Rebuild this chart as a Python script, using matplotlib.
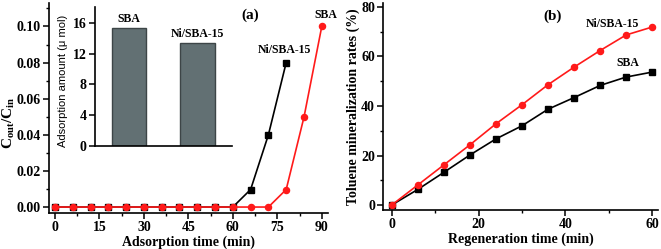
import matplotlib
matplotlib.use("Agg")
import matplotlib.pyplot as plt
from matplotlib.ticker import AutoMinorLocator, MultipleLocator, FormatStrFormatter

plt.rcParams['font.family'] = ['Liberation Serif']
plt.rcParams['font.weight'] = 'bold'
plt.rcParams['mathtext.fontset'] = 'custom'
plt.rcParams['mathtext.rm'] = 'Liberation Serif:bold'
plt.rcParams['mathtext.it'] = 'Liberation Serif:bold'
plt.rcParams['mathtext.bf'] = 'Liberation Serif:bold'

# Panel (a) breakthrough data
t_ads = [0, 6, 12, 18, 24, 30, 36, 42, 48, 54, 60, 66, 72, 78, 84, 90]
ni_ads = [0, 0, 0, 0, 0, 0, 0, 0, 0, 0, 0, 0.0097, 0.0400, 0.0800]
sba_ads = [0, 0, 0, 0, 0, 0, 0, 0, 0, 0, 0, 0, 0, 0.0097, 0.0498, 0.1000]

# Inset bars
bar_labels = ["SBA", "Ni/SBA-15"]
bar_values = [15.3, 13.4]

# Panel (b) mineralization data
t_reg = [0, 6, 12, 18, 24, 30, 36, 42, 48, 54, 60]
ni_min = [0, 8.1, 16.2, 24.3, 32.8, 40.5, 48.6, 55.7, 62.4, 68.7, 71.9]
sba_min = [0, 6.3, 13.2, 20.2, 26.7, 32.0, 38.7, 43.4, 48.3, 51.7, 53.7]

fig = plt.figure(figsize=(6.61, 2.49), dpi=100)
W, H = 661, 249

def ax_px(x0, y0, x1, y1):
    return fig.add_axes([x0 / W, 1 - y1 / H, (x1 - x0) / W, (y1 - y0) / H])

red = '#ff1a1a'
fs_tick = 10
fs_lab = 10

def style(ax):
    for s in ['top', 'right']:
        ax.spines[s].set_visible(False)
    for s in ['left', 'bottom']:
        ax.spines[s].set_linewidth(1.2)
    ax.tick_params(which='major', direction='out', length=4, width=1.1, labelsize=fs_tick, pad=2)
    ax.tick_params(which='minor', direction='out', length=2.5, width=1.0)
    for lab in ax.get_xticklabels() + ax.get_yticklabels():
        lab.set_fontweight('bold')

# Panel (a)
axa = ax_px(49, 3, 328, 213)
axa.plot(t_ads[:len(ni_ads)], ni_ads, color='black', marker='s', ms=3.8, lw=1.2)
axa.plot(t_ads, sba_ads, color=red, marker='o', ms=4.4, lw=1.2)
axa.set_xlim(-2.0, 92.1)
axa.set_ylim(-0.0033, 0.113)
axa.xaxis.set_major_locator(MultipleLocator(15))
axa.xaxis.set_minor_locator(AutoMinorLocator(2))
axa.yaxis.set_major_locator(MultipleLocator(0.02))
axa.yaxis.set_minor_locator(AutoMinorLocator(2))
axa.yaxis.set_major_formatter(FormatStrFormatter('%.2f'))
style(axa)
axa.set_xlabel('Adsorption time (min)', fontsize=fs_lab, fontweight='bold', labelpad=1)
axa.set_ylabel(r'C$_{\mathregular{out}}$/C$_{\mathregular{in}}$', fontsize=fs_lab + 1, fontweight='bold')
axa.yaxis.set_label_coords((17 - 49) / 279, (213 - 123) / 210)
fig.text(250 / W, 1 - 15 / H, '(a)', fontsize=11, fontweight='bold', ha='center', va='center')
fig.text(284 / W, 1 - 50 / H, 'Ni/SBA-15', fontsize=8.5, fontweight='bold', ha='center', va='center')
fig.text(326 / W, 1 - 15 / H, 'SBA', fontsize=8.5, fontweight='bold', ha='center', va='center')

# Inset
axi = ax_px(95, 6.7, 231.7, 145.7)
axi.patch.set_alpha(0)
axi.bar([0, 1], bar_values, width=0.5, color='#627073', edgecolor='#3d4547', linewidth=1.0)
axi.set_xlim(-0.5, 1.5)
axi.set_ylim(0, 18.1)
axi.set_xticks([])
axi.yaxis.set_major_locator(MultipleLocator(4))
style(axi)
axi.tick_params(axis='y', labelsize=10)
axi.set_ylabel('Adsorption amount (\u03bc mol)', fontsize=8, fontweight='normal',
               family='Liberation Sans')
axi.yaxis.set_label_coords((68 - 95) / 136.7, (145.7 - 81) / 139)
for i, (lab, v) in enumerate(zip(bar_labels, bar_values)):
    axi.text(i, v + 0.4, lab, fontsize=8.5, fontweight='bold', ha='center', va='bottom')

# Panel (b)
axb = ax_px(383.3, 3, 658.3, 210)
axb.plot(t_reg, sba_min, color='black', marker='s', ms=3.8, lw=1.2)
axb.plot(t_reg, ni_min, color=red, marker='o', ms=4.4, lw=1.2)
axb.set_xlim(-1.94, 61.4)
axb.set_ylim(-2.0, 81.6)
axb.xaxis.set_major_locator(MultipleLocator(20))
axb.xaxis.set_minor_locator(AutoMinorLocator(2))
axb.yaxis.set_major_locator(MultipleLocator(20))
axb.yaxis.set_minor_locator(AutoMinorLocator(2))
style(axb)
axb.set_xlabel('Regeneration time (min)', fontsize=fs_lab, fontweight='bold', labelpad=1)
axb.set_ylabel('Toluene mineralization rates (%)', fontsize=fs_lab, fontweight='bold')
axb.yaxis.set_label_coords((360 - 383.3) / 275, 0.5)
fig.text(553 / W, 1 - 16 / H, '(b)', fontsize=11, fontweight='bold', ha='center', va='center')
fig.text(612 / W, 1 - 24 / H, 'Ni/SBA-15', fontsize=8.5, fontweight='bold', ha='center', va='center')
fig.text(628 / W, 1 - 63 / H, 'SBA', fontsize=8.5, fontweight='bold', ha='center', va='center')

fig.savefig('out.png', dpi=100)
